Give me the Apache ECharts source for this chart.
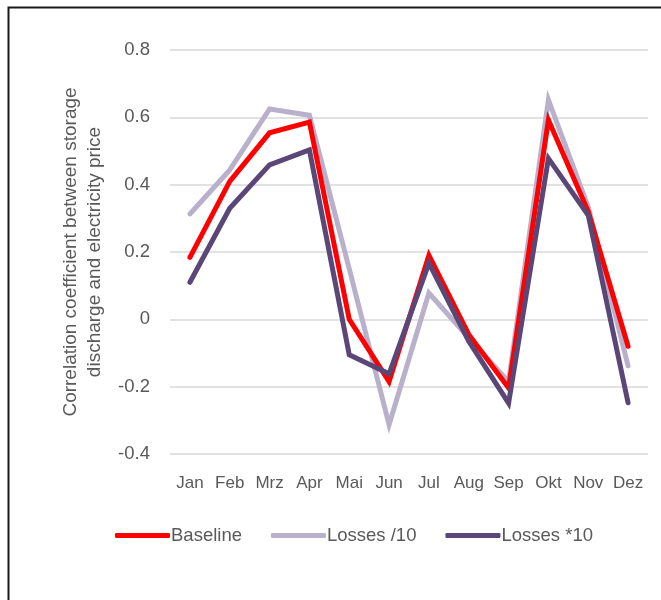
<!DOCTYPE html>
<html>
<head>
<meta charset="utf-8">
<title>Correlation coefficient by month</title>
<script src="https://cdn.jsdelivr.net/npm/echarts@6/dist/echarts.min.js"></script>
<style>
  html, body { margin: 0; padding: 0; background: #fff; }
  #chart { width: 661px; height: 600px; }
</style>
</head>
<body>
<div id="chart"></div>
<script>
// Months (German abbreviations)
const months = ['Jan', 'Feb', 'Mrz', 'Apr', 'Mai', 'Jun', 'Jul', 'Aug', 'Sep', 'Okt', 'Nov', 'Dez'];

// Correlation between storage discharge and electricity price per scenario
const baseline   = [0.184, 0.41, 0.554, 0.586, 0.0, -0.185, 0.19, -0.045, -0.204, 0.592, 0.32, -0.08];
const lossesDiv10 = [0.313, 0.444, 0.625, 0.606, 0.15, -0.313, 0.078, -0.055, -0.185, 0.652, 0.334, -0.138];
const lossesMul10 = [0.11, 0.33, 0.459, 0.503, -0.105, -0.162, 0.167, -0.065, -0.249, 0.478, 0.309, -0.248];

const seriesNames = ['Baseline', 'Losses /10', 'Losses *10'];
const seriesColors = ['#FF0000', '#B9B0CB', '#5A4778'];

const FONT = 'Liberation Sans';
const TEXT = '#595959';

const chart = echarts.init(document.getElementById('chart'), null, { renderer: 'canvas' });

const dataSets = [baseline, lossesDiv10, lossesMul10];

chart.setOption({
  animation: false,
  backgroundColor: '#fff',
  textStyle: { fontFamily: FONT, color: TEXT },
  graphic: [{
    type: 'rect',
    left: 6, top: 5,
    shape: { width: 720, height: 720 },
    style: { fill: 'none', stroke: '#1a1a1a', lineWidth: 2 },
    z: -1
  }],
  grid: { left: 170, right: 13, top: 50, bottom: 146 },
  legend: {
    left: 110, top: 521,
    itemWidth: 55, itemHeight: 5, itemGap: 29,
    icon: 'roundRect',
    textStyle: { fontFamily: FONT, fontSize: 18.5, color: TEXT, padding: [0, 0, 0, -4] },
    data: seriesNames
  },
  xAxis: {
    type: 'category',
    data: months,
    boundaryGap: true,
    axisLine: { show: false, onZero: false },
    axisTick: { show: false },
    axisLabel: { interval: 0, hideOverlap: false, fontFamily: FONT, fontSize: 17, color: TEXT, margin: 21 },
    splitLine: { show: false }
  },
  yAxis: {
    type: 'value',
    min: -0.4, max: 0.8, interval: 0.2,
    name: 'Correlation coefficient between storage\ndischarge and electricity price',
    nameLocation: 'middle',
    nameRotate: 90,
    nameGap: 58,
    nameTextStyle: { fontFamily: FONT, fontSize: 19, color: TEXT, lineHeight: 24 },
    axisLine: { show: false },
    axisTick: { show: false },
    axisLabel: {
      fontFamily: FONT, fontSize: 18.5, color: TEXT, margin: 20,
      formatter: v => String(Math.round(v * 10) / 10)
    },
    splitLine: { lineStyle: { color: '#D9D9D9', width: 1.5 } }
  },
  series: dataSets.map((d, i) => ({
    name: seriesNames[i],
    type: 'line',
    data: d,
    symbol: 'none',
    color: seriesColors[i],
    lineStyle: { width: 5, color: seriesColors[i], cap: 'round', join: 'miter' },
    itemStyle: { color: seriesColors[i] },
    z: i === 0 ? 3 : (i === 1 ? 2 : 4)
  }))
});
</script>
</body>
</html>
